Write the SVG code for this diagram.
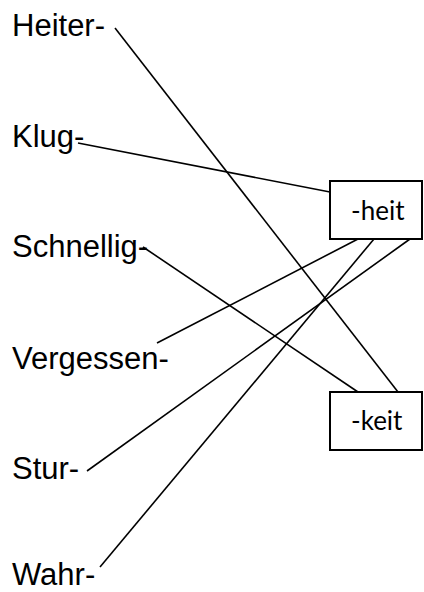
<svg xmlns="http://www.w3.org/2000/svg" width="424" height="592" viewBox="0 0 424 592">
<style>
.lbl{font-family:"Liberation Sans",Arial,sans-serif;font-size:31px;fill:#000}
.box{fill:#fff;stroke:#000;stroke-width:2}
.btx{font-family:Lato,"Liberation Sans",sans-serif;font-size:26px;fill:#000}
.con line{stroke:#000;stroke-width:1.6;fill:none}
</style>
<rect width="424" height="592" fill="#fff"/>
<g id="connectors" class="con">
<line x1="115" y1="28" x2="398" y2="392"/>
<line x1="78" y1="143" x2="330" y2="192"/>
<line x1="143" y1="247" x2="358" y2="392"/>
<line x1="157" y1="343" x2="358" y2="239"/>
<line x1="87" y1="471" x2="410" y2="239"/>
<line x1="100" y1="567" x2="374" y2="239"/>
</g>
<g id="heiter"><text class="lbl" x="12" y="36">Heiter-</text></g>
<g id="klug"><text class="lbl" x="12" y="147">Klug-</text></g>
<g id="schnellig"><text class="lbl" x="12" y="257">Schnellig-</text></g>
<g id="vergessen"><text class="lbl" x="12" y="369">Vergessen-</text></g>
<g id="stur"><text class="lbl" x="12" y="479">Stur-</text></g>
<g id="wahr"><text class="lbl" x="12" y="585">Wahr-</text></g>
<g id="heit"><rect class="box" x="330" y="181" width="92" height="58"/><text class="btx" x="351" y="220">-heit</text></g>
<g id="keit"><rect class="box" x="330" y="392" width="92" height="58"/><text class="btx" x="351" y="430">-keit</text></g>
</svg>
